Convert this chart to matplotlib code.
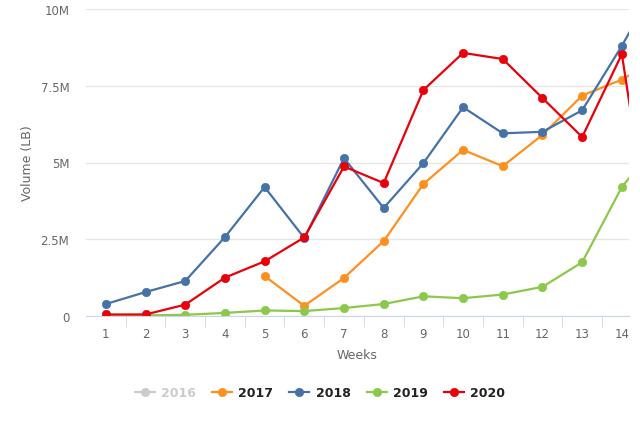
import matplotlib.pyplot as plt
from matplotlib.lines import Line2D
from matplotlib.ticker import FuncFormatter

weeks = list(range(1, 16))
weeks_2017 = list(range(5, 16))

vol_2017 = [1.30, 0.33, 1.24, 2.44, 4.30, 5.41, 4.88, 5.90, 7.18, 7.70, 8.45]
vol_2018 = [0.39, 0.78, 1.14, 2.57, 4.20, 2.54, 5.14, 3.52, 4.98, 6.80, 5.95, 6.00, 6.70, 8.80, 11.1]
vol_2019 = [0.00, 0.02, 0.04, 0.10, 0.18, 0.16, 0.26, 0.39, 0.64, 0.58, 0.70, 0.95, 1.75, 4.20, 5.77]
vol_2020 = [0.05, 0.05, 0.37, 1.25, 1.78, 2.56, 4.87, 4.33, 7.36, 8.57, 8.37, 7.10, 5.83, 8.53, 0.10]

years = ["2016", "2017", "2018", "2019", "2020"]
colors = {"2016": "#cccccc", "2017": "#ff9020", "2018": "#4572a7",
          "2019": "#8cc84b", "2020": "#e8000b"}

fig = plt.figure(figsize=(6.4, 4.27), dpi=100)
ax = fig.add_axes([86 / 640, 1 - 317 / 427, (629 - 86) / 640, (317 - 10) / 427])

style = dict(lw=1.6, marker="o", ms=6, mew=0.5, clip_on=True)
ax.plot(weeks_2017, [v * 1e6 for v in vol_2017], color=colors["2017"], **style)
ax.plot(weeks, [v * 1e6 for v in vol_2018], color=colors["2018"], **style)
ax.plot(weeks, [v * 1e6 for v in vol_2019], color=colors["2019"], **style)
ax.plot(weeks, [v * 1e6 for v in vol_2020], color=colors["2020"], **style)

ax.set_xticks(range(1, 15))
ax.set_xticks([w + 0.5 for w in range(1, 14)], minor=True)
ax.set_yticks([0, 2.5e6, 5e6, 7.5e6, 10e6])
ax.set_xlim(0.5, 14.18)
ax.set_ylim(0, 10e6)

def fmt(v, pos):
    if v == 0:
        return "0"
    return f"{v / 1e6:g}M"

ax.yaxis.set_major_formatter(FuncFormatter(fmt))
ax.grid(axis="y", color="#e6e6e6", lw=1)
ax.set_axisbelow(True)
for s in ["top", "right", "left"]:
    ax.spines[s].set_visible(False)
ax.spines["bottom"].set_color("#ccd6eb")
ax.tick_params(axis="x", which="major", length=0, pad=8, labelsize=8.5, labelcolor="#666666")
ax.tick_params(axis="x", which="minor", length=8, color="#ccd6eb")
ax.tick_params(axis="y", length=0, pad=12, labelsize=8.5, labelcolor="#666666")

ax.set_xlabel("Weeks", fontsize=9, color="#666666", labelpad=6)
ax.set_ylabel("Volume (LB)", fontsize=9, color="#666666", labelpad=5)

handles = [Line2D([], [], color=colors[y], lw=1.6, marker="o", ms=6, mew=0.5) for y in years]
leg = fig.legend(handles, years, loc="center", bbox_to_anchor=(0.5, 1 - 394 / 427),
                 ncol=5, frameon=False, handlelength=1.6, columnspacing=1.3,
                 handletextpad=0.5, prop={"size": 9, "weight": "bold"})
for t, y in zip(leg.get_texts(), years):
    t.set_color("#cccccc" if y == "2016" else "#222222")

fig.savefig("out.png", dpi=100)
